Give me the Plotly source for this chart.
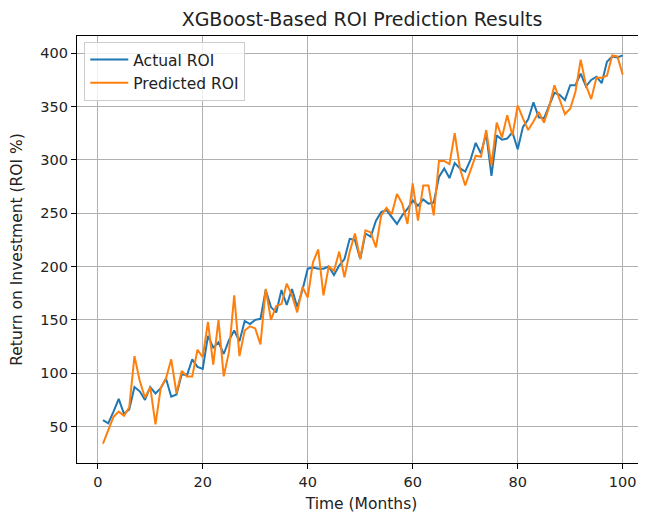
import plotly.graph_objects as go

months = list(range(1, 101))

actual_roi = [56, 53, 64, 76, 62, 66, 87, 83, 75, 87,
              81, 86, 95, 78, 80, 99, 98, 113, 106, 104,
              135, 124, 129, 118, 131, 140, 130, 149, 146, 150,
              151, 178, 162, 157, 178, 164, 179, 162, 178, 198,
              199, 198, 198, 200, 192, 201, 207, 226, 225, 207,
              231, 228, 243, 251, 253, 247, 240, 248, 254, 262,
              257, 263, 259, 260, 284, 292, 283, 297, 292, 289,
              300, 316, 306, 325, 285, 323, 319, 320, 326, 310,
              331, 338, 354, 340, 339, 351, 363, 361, 356, 370,
              370, 381, 369, 375, 378, 372, 392, 397, 396, 398]

predicted_roi = [34, 46, 59, 64, 60, 68, 116, 93, 77, 87,
                 52, 86, 95, 113, 81, 102, 97, 97, 122, 115,
                 148, 108, 150, 97, 120, 173, 116, 140, 144, 142,
                 127, 179, 150, 163, 165, 184, 173, 157, 181, 171,
                 204, 216, 173, 200, 196, 214, 190, 214, 231, 207,
                 234, 232, 218, 248, 255, 249, 268, 259, 240, 278,
                 243, 276, 276, 248, 299, 299, 296, 325, 292, 276,
                 290, 304, 303, 328, 295, 335, 321, 342, 323, 351,
                 339, 328, 336, 345, 335, 350, 370, 357, 343, 348,
                 364, 394, 370, 357, 377, 377, 379, 398, 397, 380]

x_ticks = [0, 20, 40, 60, 80, 100]
y_ticks = [50, 100, 150, 200, 250, 300, 350, 400]

font_family = "DejaVu Sans"
text_color = "#222222"

# The page body keeps its default 8px margin, so the figure is sized to fill
# the 646x513 window exactly from that offset.
W, H = 638, 505

fig = go.Figure()
fig.add_trace(go.Scatter(x=months, y=actual_roi, mode="lines", name="Actual ROI",
                         line=dict(color="#1f77b4", width=2)))
fig.add_trace(go.Scatter(x=months, y=predicted_roi, mode="lines", name="Predicted ROI",
                         line=dict(color="#ff7f0e", width=2)))

axis_common = dict(
    showline=True, linecolor="black", linewidth=1.2, mirror=True,
    showgrid=True, gridcolor="#b0b0b0", gridwidth=1,
    ticks="outside", ticklen=5, tickcolor="black", tickwidth=1,
    zeroline=False, automargin=False,
    tickfont=dict(family=font_family, size=14.5, color=text_color),
)

fig.update_layout(
    width=W, height=H,
    paper_bgcolor="white", plot_bgcolor="white",
    margin=dict(l=69, r=0, t=28, b=50.3),
    title=dict(text="XGBoost-Based ROI Prediction Results", xref="container", x=354 / W,
               xanchor="center", yref="container", y=1 - 11.5 / H, yanchor="middle",
               font=dict(family=font_family, size=19, color=text_color)),
    xaxis=dict(range=[-3.95, 104.44], tickvals=x_ticks,
               title=dict(text="Time (Months)",
                          font=dict(family=font_family, size=15.5, color=text_color),
                          standoff=11),
               **axis_common),
    yaxis=dict(range=[15.8, 416.2], tickvals=y_ticks,
               title=dict(text="Return on Investment (ROI %)",
                          font=dict(family=font_family, size=15.5, color=text_color),
                          standoff=22),
               **axis_common),
    legend=dict(x=0.0128, y=0.986, xanchor="left", yanchor="top",
                bgcolor="rgba(255,255,255,0.8)", bordercolor="#cccccc", borderwidth=1,
                itemwidth=38,
                font=dict(family=font_family, size=15.5, color=text_color)),
    showlegend=True,
)

fig.write_html("out.html")
